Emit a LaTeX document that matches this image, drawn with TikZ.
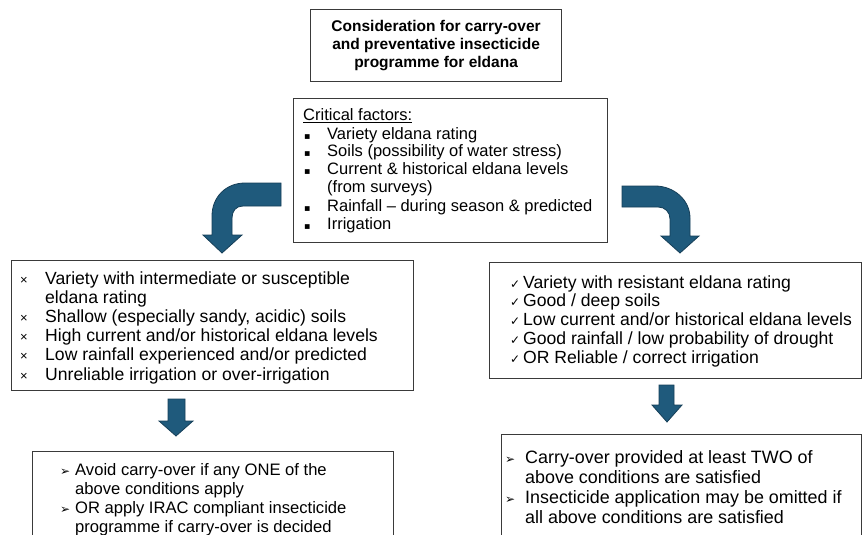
\documentclass[tikz,border=0pt]{standalone}
\usepackage{fontspec}
\setmainfont{Liberation Sans}
\newfontfamily\symf{DejaVu Sans}
\definecolor{arrowfill}{HTML}{1F5A7C}
\definecolor{arrowline}{HTML}{163F58}
\definecolor{boxline}{HTML}{3A3A3A}
\newcommand{\bx}[3]{\makebox[#1][l]{\fontsize{#2}{#2}\selectfont #3}}
\begin{document}
\begin{tikzpicture}[x=1pt,y=-1pt,
  box/.style={draw=boxline, line width=1.2pt, rectangle, inner sep=0pt, anchor=north west},
  txt/.style={inner sep=0pt, anchor=base west},
  blockarrow/.style={fill=arrowfill, draw=arrowline, line width=0.8pt, line join=miter}]
\useasboundingbox (0,0) rectangle (862,535);
\clip (0,0) rectangle (862,535);
\fill[white] (0,0) rectangle (862,535);

% boxes
\node[box, minimum width=251pt, minimum height=72pt] (title) at (310,9) {};
\node[box, minimum width=314pt, minimum height=144pt] (crit) at (293,98) {};
\node[box, minimum width=402pt, minimum height=130pt] (left) at (11,260) {};
\node[box, minimum width=372pt, minimum height=116pt] (right) at (489,262) {};
\node[box, minimum width=361pt, minimum height=120pt] (bl) at (32,451) {};
\node[box, minimum width=360pt, minimum height=140pt] (br) at (501,434) {};

% title text
\node[inner sep=0pt, font=\fontsize{15.5}{18}\selectfont\bfseries, align=center] (titletext) at (title.center)
  {Consideration for carry-over\\and preventative insecticide\\programme for eldana};

% critical factors
\node[txt, font=\fontsize{16.5}{18}\selectfont] (crittext) at (303,121) {\begin{tabular}[t]{@{}l@{}l@{}}
\multicolumn{2}{@{}l@{}}{\underline{Critical factors:}}\\
\bx{24pt}{9.5}{\hspace{1pt}\symf ▪} & Variety eldana rating\\
\bx{24pt}{9.5}{\hspace{1pt}\symf ▪} & Soils (possibility of water stress)\\
\bx{24pt}{9.5}{\hspace{1pt}\symf ▪} & Current \& historical eldana levels\\
 & (from surveys)\\
\bx{24pt}{9.5}{\hspace{1pt}\symf ▪} & Rainfall -- during season \& predicted\\
\bx{24pt}{9.5}{\hspace{1pt}\symf ▪} & Irrigation
\end{tabular}};

% left conditions
\node[txt, font=\fontsize{17.6}{19.2}\selectfont] (lefttext) at (20,284) {\begin{tabular}[t]{@{}l@{}l@{}}
\bx{25pt}{13}{×} & Variety with intermediate or susceptible\\
 & eldana rating\\
\bx{25pt}{13}{×} & Shallow (especially sandy, acidic) soils\\
\bx{25pt}{13}{×} & High current and/or historical eldana levels\\
\bx{25pt}{13}{×} & Low rainfall experienced and/or predicted\\
\bx{25pt}{13}{×} & Unreliable irrigation or over-irrigation
\end{tabular}};

% right conditions
\node[txt, font=\fontsize{17.6}{18.75}\selectfont] (righttext) at (510,288) {\begin{tabular}[t]{@{}l@{}l@{}}
\bx{13pt}{12}{\symf ✓} & Variety with resistant eldana rating\\
\bx{13pt}{12}{\symf ✓} & Good / deep soils\\
\bx{13pt}{12}{\symf ✓} & Low current and/or historical eldana levels\\
\bx{13pt}{12}{\symf ✓} & Good rainfall / low probability of drought\\
\bx{13pt}{12}{\symf ✓} & OR Reliable / correct irrigation
\end{tabular}};

% bottom left
\node[txt, font=\fontsize{16.6}{19}\selectfont] (bltext) at (60,475) {\begin{tabular}[t]{@{}l@{}l@{}}
\bx{15pt}{12}{\symf ➢} & Avoid carry-over if any ONE of the\\
 & above conditions apply\\
\bx{15pt}{12}{\symf ➢} & OR apply IRAC compliant insecticide\\
 & programme if carry-over is decided
\end{tabular}};

% bottom right
\node[txt, font=\fontsize{17.9}{20}\selectfont] (brtext) at (505,463) {\begin{tabular}[t]{@{}l@{}l@{}}
\bx{20pt}{12}{\symf ➢} & Carry-over provided at least TWO of\\
 & above conditions are satisfied\\
\bx{20pt}{12}{\symf ➢} & Insecticide application may be omitted if\\
 & all above conditions are satisfied
\end{tabular}};

% curved arrow left
\draw[blockarrow] (281,183) -- (245,183) .. controls (226,183) and (212,197) .. (212,216)
  -- (212,235) -- (203,235) -- (222,253) -- (242,235) -- (232,235) -- (232,218)
  .. controls (232,211) and (236,206) .. (243,206) -- (281,206) -- cycle;
% curved arrow right
\draw[blockarrow] (622,186) -- (655,186) .. controls (674,186) and (690,200) .. (690,218)
  -- (690,236) -- (699,236) -- (680,253) -- (661,236) -- (670,236) -- (670,219)
  .. controls (670,212) and (665,207) .. (658,207) -- (622,207) -- cycle;
% down arrow left
\draw[blockarrow] (168,399) -- (185,399) -- (185,421) -- (193,421) -- (176,436)
  -- (159,421) -- (168,421) -- cycle;
% down arrow right
\draw[blockarrow] (659,385) -- (674,385) -- (674,405) -- (682,405) -- (667,422)
  -- (652,405) -- (659,405) -- cycle;
\end{tikzpicture}
\end{document}
